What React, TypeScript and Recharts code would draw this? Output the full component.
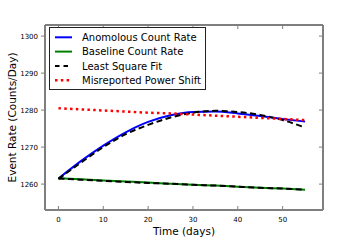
import { LineChart, Line, XAxis, YAxis } from 'recharts';

// time in days
const days = [0, 5, 10, 15, 20, 25, 30, 35, 40, 45, 50, 55];

const anomalousRate = [1261.5, 1266.2, 1270.4, 1274.0, 1276.8, 1278.6, 1279.5, 1279.6, 1279.1, 1278.4, 1277.6, 1276.9];
const baselineRate = [1261.6, 1261.3, 1261.0, 1260.7, 1260.4, 1260.1, 1259.8, 1259.6, 1259.3, 1259.0, 1258.8, 1258.5];
const anomalousFit = [1261.4, 1265.8, 1270.0, 1273.5, 1276.0, 1278.0, 1279.3, 1279.8, 1279.5, 1278.7, 1277.3, 1275.3];
const baselineFit = [1261.5, 1261.2, 1260.9, 1260.6, 1260.3, 1260.1, 1259.8, 1259.6, 1259.3, 1259.0, 1258.8, 1258.5];
const powerShift = [1280.5, 1280.2, 1279.9, 1279.6, 1279.3, 1279.1, 1278.8, 1278.5, 1278.2, 1277.9, 1277.6, 1277.3];

const xTicks = [0, 10, 20, 30, 40, 50];
const yTicks = [1260, 1270, 1280, 1290, 1300];

const legendItems = [
  { name: 'Anomolous Count Rate', color: '#0000ff', dash: undefined, width: 2 },
  { name: 'Baseline Count Rate', color: '#008000', dash: undefined, width: 2 },
  { name: 'Least Square Fit', color: '#000000', dash: '4.5 4', width: 2 },
  { name: 'Misreported Power Shift', color: '#ff0000', dash: '2.5 3.3', width: 2.5 },
];

const data = days.map((t, i) => ({
  t,
  anomalous: anomalousRate[i],
  baseline: baselineRate[i],
  fit: anomalousFit[i],
  baseFit: baselineFit[i],
  shift: powerShift[i],
}));

const FONT = 'DejaVu Sans, sans-serif';
const FRAME = '#7f7f7f';

function LegendBox() {
  return (
    <div
      style={{
        position: 'absolute',
        left: 49,
        top: 27,
        width: 157,
        height: 63,
        border: '1.3px solid #222',
        background: '#fff',
        boxSizing: 'border-box',
      }}
    >
      <svg width={155} height={61} style={{ display: 'block' }}>
        {legendItems.map((item, i) => {
          const y = 9.3 + i * 14.3;
          return (
            <g key={item.name}>
              <line x1={5} x2={22} y1={y} y2={y} stroke={item.color} strokeWidth={item.width} strokeDasharray={item.dash} />
              <text x={32} y={y + 3.6} fontSize={10} fontFamily={FONT} fill="#000">
                {item.name}
              </text>
            </g>
          );
        })}
      </svg>
    </div>
  );
}

export default function App() {
  return (
    <div style={{ position: 'absolute', left: 0, top: 0, width: 360, height: 240, background: '#fff' }}>
      <LineChart width={360} height={240} data={data} margin={{ top: 24, right: 36, bottom: 0, left: 0 }}>
        <XAxis
          dataKey="t"
          type="number"
          domain={[-3, 59]}
          ticks={xTicks}
          allowDataOverflow
          height={30}
          tickSize={-4}
          tickMargin={11}
          axisLine={{ stroke: FRAME, strokeWidth: 2 }}
          tickLine={{ stroke: FRAME, strokeWidth: 1 }}
          tick={{ fill: '#000', fontSize: 7, fontFamily: FONT }}
          label={{ value: 'Time (days)', position: 'insideBottom', offset: 5, fill: '#000', fontSize: 10.5, fontFamily: FONT }}
        />
        <XAxis
          xAxisId="top"
          dataKey="t"
          orientation="top"
          type="number"
          domain={[-3, 59]}
          ticks={xTicks}
          allowDataOverflow
          height={1}
          tickSize={-4}
          tickFormatter={() => ''}
          axisLine={{ stroke: FRAME, strokeWidth: 2 }}
          tickLine={{ stroke: FRAME, strokeWidth: 1 }}
        />
        <YAxis
          type="number"
          domain={[1253, 1303]}
          ticks={yTicks}
          allowDataOverflow
          width={45}
          tickSize={4}
          tickMargin={3}
          axisLine={{ stroke: FRAME, strokeWidth: 2 }}
          tickLine={{ stroke: FRAME, strokeWidth: 1 }}
          tick={{ fill: '#000', fontSize: 7, fontFamily: FONT }}
          label={{
            value: 'Event Rate (Counts/Day)',
            angle: -90,
            position: 'insideLeft',
            offset: 12,
            fill: '#000',
            fontSize: 10.5,
            fontFamily: FONT,
            style: { textAnchor: 'middle' },
          }}
        />
        <YAxis
          yAxisId="right"
          orientation="right"
          type="number"
          domain={[1253, 1303]}
          ticks={yTicks}
          allowDataOverflow
          width={1}
          tickSize={-4}
          tickFormatter={() => ''}
          axisLine={{ stroke: FRAME, strokeWidth: 2 }}
          tickLine={{ stroke: FRAME, strokeWidth: 1 }}
        />
        {/* invisible series so the top and right frame axes get drawn */}
        <Line xAxisId="top" yAxisId="right" dataKey="anomalous" stroke="none" dot={false} isAnimationActive={false} />
        <Line dataKey="anomalous" type="monotone" stroke="#0000ff" strokeWidth={2} dot={false} isAnimationActive={false} />
        <Line dataKey="baseline" type="monotone" stroke="#008000" strokeWidth={2} dot={false} isAnimationActive={false} />
        <Line dataKey="fit" type="monotone" stroke="#000" strokeWidth={2} strokeDasharray="6 3.5" dot={false} isAnimationActive={false} />
        <Line dataKey="baseFit" type="monotone" stroke="#000" strokeWidth={2} strokeDasharray="6 3.5" dot={false} isAnimationActive={false} />
        <Line dataKey="shift" type="monotone" stroke="#ff0000" strokeWidth={2.5} strokeDasharray="2.5 3.3" dot={false} isAnimationActive={false} />
      </LineChart>
      <LegendBox />
    </div>
  );
}
